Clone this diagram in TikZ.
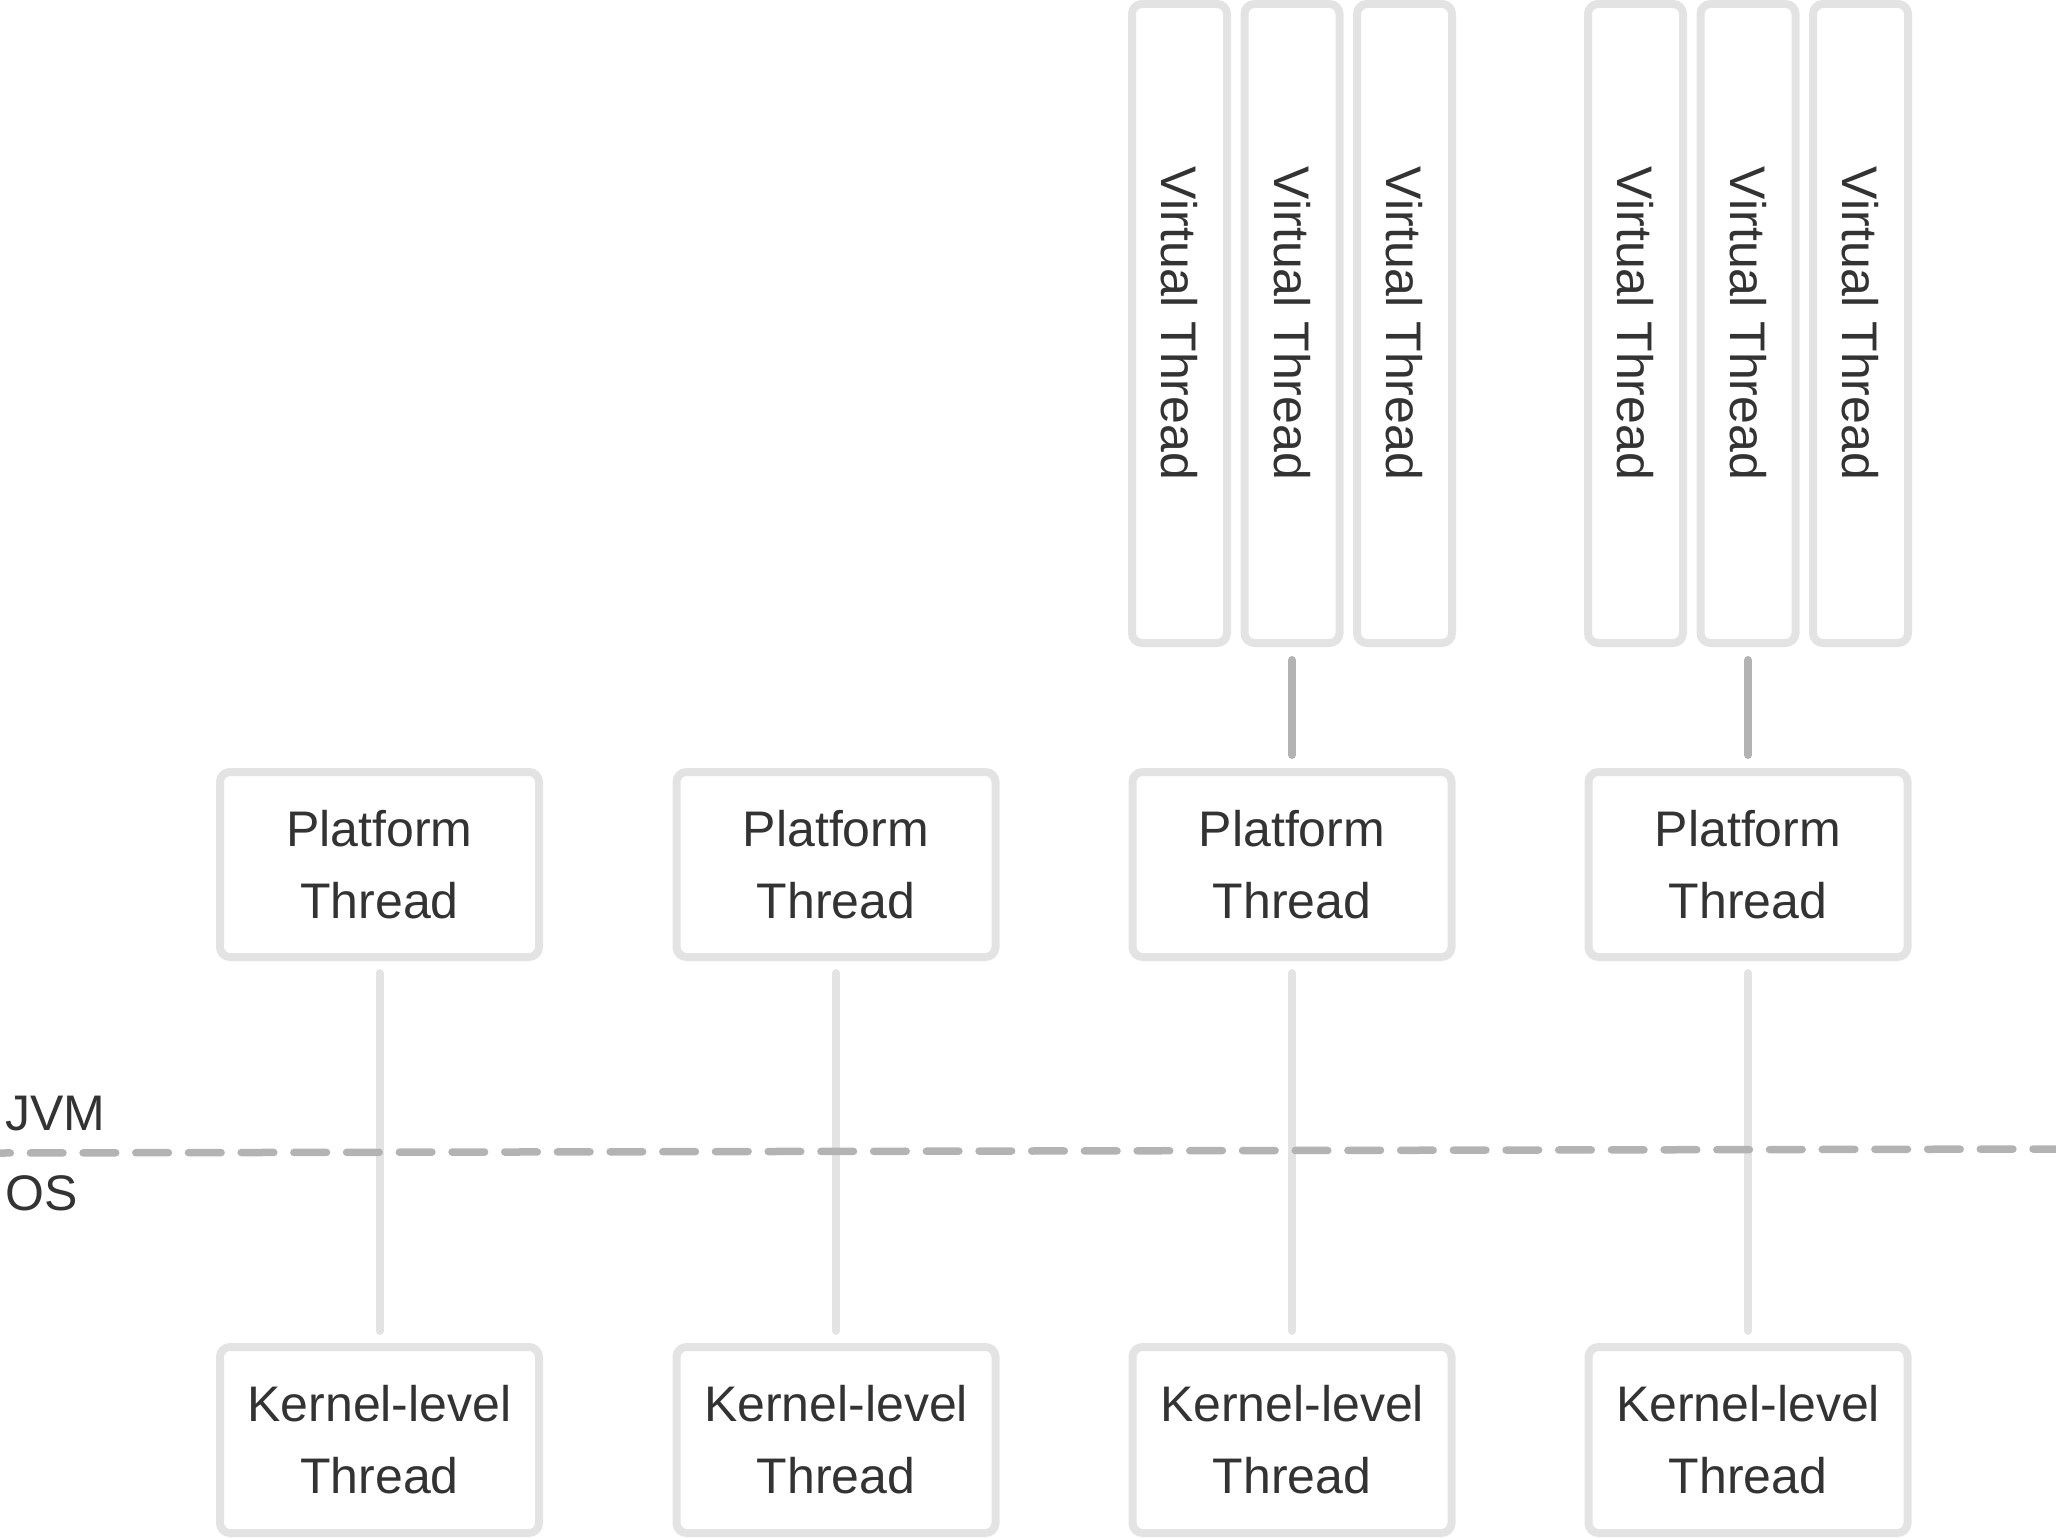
\documentclass[tikz,border=0pt]{standalone}
\usepackage{fontspec}
\setmainfont{Liberation Sans}
\definecolor{boxline}{HTML}{E3E3E3}
\definecolor{darkline}{HTML}{B3B3B3}
\definecolor{txt}{HTML}{333333}
\tikzset{
  thread/.style={draw=boxline, line width=8pt, rounded corners=10pt, fill=white,
    text=txt, align=center, outer sep=0pt, inner sep=0pt,
    font=\fontsize{50}{72}\selectfont},
  platbox/.style={thread, minimum width=319pt, minimum height=185pt},
  virtbox/.style={thread, rotate=-90, minimum width=639pt, minimum height=95pt},
  lightconn/.style={draw=boxline, line width=8pt, line cap=round},
  darkconn/.style={draw=darkline, line width=8pt, line cap=round},
  sepline/.style={draw=darkline, line width=7.5pt, line cap=round,
    dash pattern=on 32.6pt off 20.1pt, dash phase=22.3pt},
  lbl/.style={text=txt, font=\fontsize{50}{60}\selectfont, inner sep=0pt, anchor=base west}
}
\begin{document}
\begin{tikzpicture}[x=1pt,y=-1pt]
\useasboundingbox (0,0) rectangle (2056,1538);
% dashed separator
\coordinate (dl) at (0,1153);
\coordinate (dr) at (2056,1149);
% platform and kernel threads
\foreach \i/\x in {1/379.5,2/836,3/1292,4/1748}{
  \node[platbox] (p\i) at (\x,864.5) {Platform\\Thread};
  \node[platbox, minimum height=186pt] (k\i) at (\x,1440) {Kernel-level\\Thread};
}
% virtual threads
\foreach \g/\x in {3/1292,4/1748}{
  \node[virtbox] (v\g a) at (\x-112.5,323.5) {Virtual Thread};
  \node[virtbox] (v\g b) at (\x,323.5) {Virtual Thread};
  \node[virtbox] (v\g c) at (\x+112.5,323.5) {Virtual Thread};
}
% connectors
\foreach \i in {1,2,3,4}{
  \draw[lightconn, shorten <=16pt, shorten >=16pt] (p\i) -- (k\i);
}
\draw[darkconn, shorten <=17pt, shorten >=17pt] (v3b) -- (p3);
\draw[darkconn, shorten <=17pt, shorten >=17pt] (v4b) -- (p4);
\draw[sepline] (dl) -- (dr);
% labels
\node[lbl] (jvm) at (5,1130) {JVM};
\node[lbl] (os) at (5,1210) {OS};
\end{tikzpicture}
\end{document}
